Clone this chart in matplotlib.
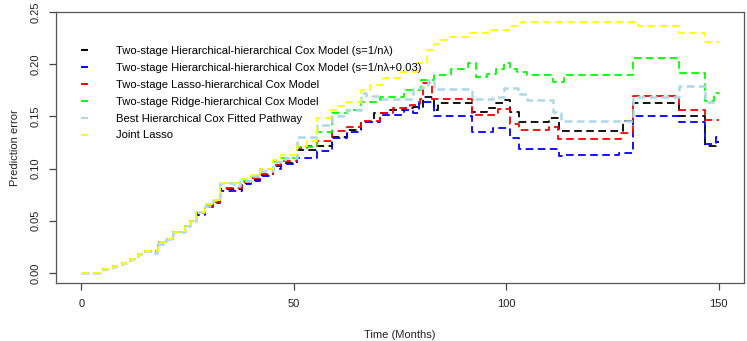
#prediction error curves, step plot in R-like style

#imports
import matplotlib
matplotlib.use('Agg')
import matplotlib.pyplot as plt
from matplotlib.lines import Line2D

#data (time in months, prediction error)
t_black = [0, 5, 7.4, 9.5, 11.4, 13.3, 15, 18, 20, 21.6, 24.4, 25.5, 27, 29, 31, 32.7, 37.8, 40, 42, 45, 47, 50.8, 55.5, 59, 62.5, 65.7, 68.8, 72.3, 75.9, 78, 80.5, 83, 84, 92, 95.6, 97.5, 99.4, 101, 103, 110, 112.4, 127.5, 129.8, 140.6, 146.8, 149.5]
v_black = [0, .004, .007, .010, .013, .018, .021, .030, .033, .039, .045, .050, .057, .064, .068, .080, .086, .089, .094, .102, .105, .118, .122, .130, .137, .145, .153, .156, .158, .159, .169, .156, .163, .154, .158, .163, .166, .154, .145, .148, .136, .146, .163, .150, .122, .125]

t_blue = [0, 5, 7.4, 9.5, 11.4, 13.3, 15, 18, 20, 21.6, 24.4, 25.5, 27, 29, 31, 32.7, 37.8, 40, 42, 45, 47, 50.8, 55.5, 59, 62.5, 65.7, 70.4, 76, 78, 79.5, 83, 92, 97, 101, 103, 112.4, 114, 126.5, 129.8, 140.6, 146.8, 149.5]
v_blue = [0, .004, .007, .010, .013, .018, .021, .030, .033, .039, .045, .050, .056, .063, .067, .079, .085, .088, .093, .100, .104, .110, .117, .129, .135, .145, .151, .156, .153, .164, .150, .135, .139, .129, .119, .112, .113, .115, .150, .145, .124, .130]

t_red = [0, 5, 7.4, 9.5, 11.4, 13.3, 15, 18, 20, 21.6, 24.4, 25.5, 27, 29, 31, 32.7, 37.8, 40, 42, 45, 47, 50.8, 53, 55.5, 59, 62.5, 65.7, 70.4, 73.4, 77.4, 79.8, 80.5, 82.6, 92, 98, 101, 103, 110, 112.3, 127, 129.8, 140.6, 146.8]
v_red = [0, .004, .007, .010, .013, .018, .021, .030, .033, .039, .045, .050, .057, .064, .068, .081, .087, .091, .095, .103, .107, .120, .122, .126, .136, .140, .146, .153, .158, .161, .167, .182, .167, .151, .157, .143, .137, .140, .128, .134, .170, .156, .147]

t_green = [0, 5, 7.4, 9.5, 11.4, 13.3, 15, 18, 20, 21.6, 24.4, 25.5, 27, 29, 31, 32.7, 37, 40, 42, 45, 47, 50.8, 55.5, 59, 62.5, 65.7, 70.4, 76, 80, 83, 87, 91, 93, 95.6, 97.5, 99.4, 101, 102.6, 105, 111, 113.6, 129.8, 140.6, 146.8, 149]
v_green = [0, .004, .007, .010, .013, .018, .021, .030, .033, .039, .045, .050, .058, .066, .070, .086, .088, .093, .100, .106, .110, .121, .135, .153, .156, .164, .169, .175, .185, .190, .195, .201, .188, .191, .195, .201, .195, .193, .190, .183, .190, .206, .192, .165, .172]

t_lblue = [0, 5, 7.4, 9.5, 11.4, 13.3, 15, 16.6, 17.8, 20, 21.6, 24.4, 25.5, 27, 29, 31, 32.7, 36, 37.4, 40, 42, 45, 48, 50.8, 55.5, 59, 62.5, 65.7, 67, 70, 78, 80.5, 81.5, 83, 92, 97, 99.5, 102.7, 105, 111, 112.8, 129.8, 140.6, 146.8]
v_lblue = [0, .004, .007, .010, .013, .018, .021, .019, .028, .033, .039, .045, .050, .058, .064, .070, .086, .083, .088, .093, .098, .106, .110, .130, .142, .150, .156, .172, .170, .167, .177, .180, .185, .176, .167, .169, .177, .171, .166, .154, .146, .169, .179, .164]

t_yellow = [0, 5, 7.4, 9.5, 11.4, 13.3, 15, 18, 20, 21.6, 24.4, 25.5, 27, 29, 31, 32.7, 37, 40, 42, 45, 47, 50.8, 53, 55.5, 58.6, 60, 62.5, 65.7, 68, 71, 75, 79, 81.4, 83, 84.5, 86.4, 91, 96.3, 101, 103.5, 131, 140.6, 146.8]
v_yellow = [0, .004, .007, .010, .013, .018, .021, .030, .033, .039, .045, .050, .058, .066, .070, .086, .090, .094, .100, .108, .113, .122, .126, .148, .156, .160, .164, .175, .180, .187, .193, .201, .214, .219, .223, .226, .230, .233, .237, .240, .237, .230, .221]

labels = ['Two-stage Hierarchical-hierarchical Cox Model (s=1/n\u03bb)',
          'Two-stage Hierarchical-hierarchical Cox Model (s=1/n\u03bb+0.03)',
          'Two-stage Lasso-hierarchical Cox Model',
          'Two-stage Ridge-hierarchical Cox Model',
          'Best Hierarchical Cox Fitted Pathway',
          'Joint Lasso']
colors = ['black', '#0000FF', '#FF0000', '#00FF00', '#ADD8E6', '#FFFF00']
t_end = 150

#style
plt.rcParams['font.family'] = ['Liberation Sans', 'DejaVu Sans']
plt.rcParams['font.size'] = 8
plt.rcParams['lines.scale_dashes'] = False

fig = plt.figure(figsize=(7.47, 3.41), dpi=100)
ax = fig.add_axes([56/747, 1 - 283/341, 688/747, 271/341])

#step curves
series = [(t_black, v_black), (t_blue, v_blue), (t_red, v_red),
          (t_green, v_green), (t_lblue, v_lblue), (t_yellow, v_yellow)]
for (t, v), c in zip(series, colors):
    lw = 1.8 if c == '#ADD8E6' else 1.3
    ax.step(t + [t_end], v + [v[-1]], where='post', color=c, lw=lw,
            dashes=(5.5, 3.2))

#axes, R-like
ax.set_xlim(-6, 156)
ax.set_ylim(-0.0096, 0.2496)
ax.set_xticks([0, 50, 100, 150])
ax.set_yticks([0, 0.05, 0.10, 0.15, 0.20, 0.25])
ax.set_yticklabels(['0.00', '0.05', '0.10', '0.15', '0.20', '0.25'],
                   rotation=90, va='center')
ax.tick_params(direction='out', length=5, width=0.9, colors='#444444',
               labelcolor='#222222', labelsize=8)
ax.tick_params(axis='x', pad=6.5)
ax.tick_params(axis='y', pad=6)
for s in ax.spines.values():
    s.set_color('#555555')
    s.set_linewidth(0.9)

ax.set_xlabel('Time (Months)', fontsize=8, color='#222222', labelpad=15)
ax.set_ylabel('Prediction error', fontsize=8, color='#222222', labelpad=8)

#legend without box
handles = [Line2D([0], [0], color=c, lw=1.4) for c in colors]
ax.legend(handles, labels, loc='upper left', bbox_to_anchor=(76/747, 1 - 40/341),
          bbox_transform=fig.transFigure, frameon=False, borderpad=0,
          handlelength=0.5, handletextpad=2.55, labelspacing=0.62,
          fontsize=8.1)

fig.savefig('out.png', dpi=100)
